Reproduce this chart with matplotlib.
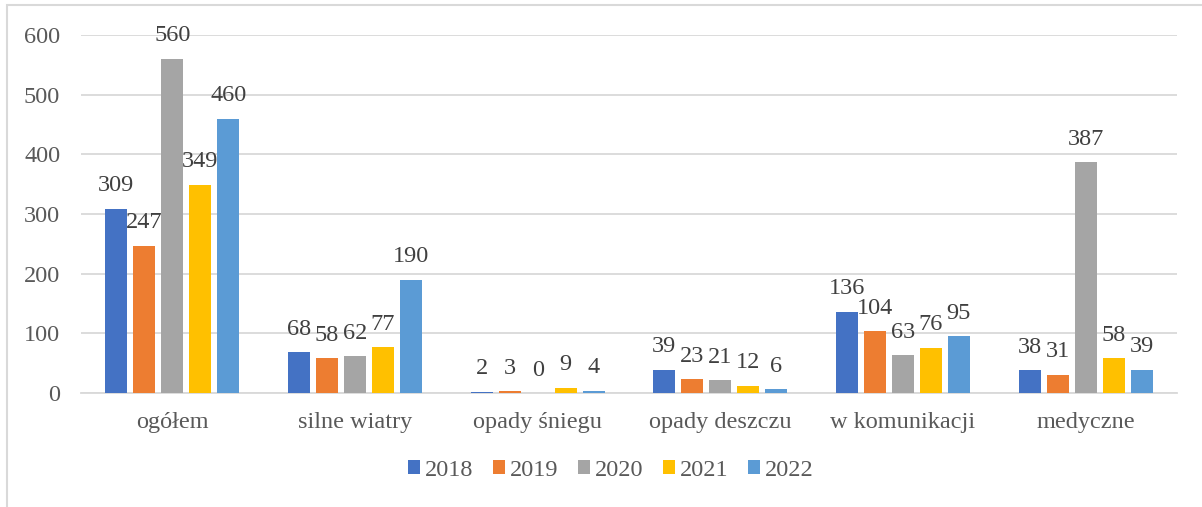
import matplotlib

matplotlib.use("Agg")

import matplotlib.pyplot as plt  # noqa: E402
import numpy as np  # noqa: E402
from matplotlib.patches import Rectangle  # noqa: E402

categories = ["ogółem", "silne wiatry", "opady śniegu", "opady deszczu",
              "w komunikacji", "medyczne"]
years = ["2018", "2019", "2020", "2021", "2022"]
v2018 = [309, 68, 2, 39, 136, 38]
v2019 = [247, 58, 3, 23, 104, 31]
v2020 = [560, 62, 0, 21, 63, 387]
v2021 = [349, 77, 9, 12, 76, 58]
v2022 = [460, 190, 4, 6, 95, 39]
series = [v2018, v2019, v2020, v2021, v2022]
colors = ["#4472C4", "#ED7D31", "#A5A5A5", "#FFC000", "#5B9BD5"]

TEXT = "#595959"
FS = 17.5
plt.rcParams["font.family"] = ["Liberation Serif", "DejaVu Serif"]

fig = plt.figure(figsize=(12.02, 5.07), dpi=100)
# light chart-area frame (cut off at right/bottom, as in the source)
fig.patches.append(Rectangle((7 / 1202, -0.1), 1.2, (1 - 5 / 507) + 0.1,
                             transform=fig.transFigure, fill=False,
                             edgecolor="#d9d9d9", linewidth=1.5))

ax = fig.add_axes([81 / 1202, 1 - 393 / 507, (1177 - 81) / 1202, (393 - 35) / 507])
x = np.arange(len(categories))
pitch = 0.153
width = 0.12
for i, (vals, col, yr) in enumerate(zip(series, colors, years)):
    pos = x + (i - 2) * pitch
    ax.bar(pos, vals, width=width, color=col, label=yr, zorder=3)
    for px, v in zip(pos, vals):
        ax.annotate(str(v), (px, v), xytext=(0, 16.5), textcoords="offset points",
                    ha="center", va="center", fontsize=FS, color="#404040")

ax.set_xlim(-0.5, len(categories) - 0.5)
ax.set_ylim(0, 600)
ax.set_yticks(range(0, 601, 100))
ax.grid(axis="y", color="#d9d9d9", linewidth=1.3, zorder=0)
for s in ["top", "right", "left"]:
    ax.spines[s].set_visible(False)
ax.spines["bottom"].set_color("#d9d9d9")
ax.spines["bottom"].set_linewidth(1.3)
ax.tick_params(length=0, labelsize=FS, colors=TEXT)
ax.tick_params(axis="x", pad=14)
ax.tick_params(axis="y", pad=15)
ax.set_xticks(x)
ax.set_xticklabels(categories)

ax.legend(loc="center", bbox_to_anchor=(611 / 1202, 1 - 470 / 507),
          bbox_transform=fig.transFigure, ncol=5, frameon=False, fontsize=FS,
          handlelength=0.5, handleheight=0.5, handletextpad=0.2, columnspacing=0.8,
          labelcolor=TEXT)

fig.savefig("out.png", dpi=100)
